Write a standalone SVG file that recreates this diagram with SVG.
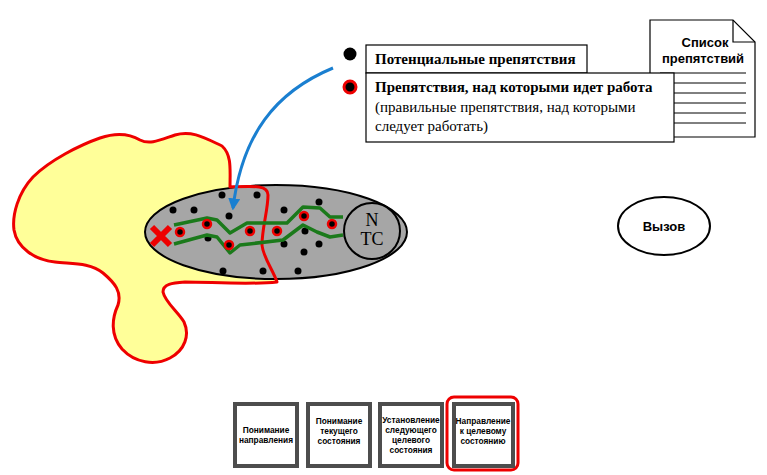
<svg xmlns="http://www.w3.org/2000/svg" width="767" height="475" viewBox="0 0 767 475">
<defs>
<marker id="ah" viewBox="0 0 10 10" refX="8" refY="5" markerWidth="4" markerHeight="4" orient="auto"><path d="M0,0 L10,5 L0,10 z" fill="#1a7fd0"/></marker>
<style>
.serif{font-family:"Liberation Serif","Times New Roman",serif;fill:#000}
.sans{font-family:"Liberation Sans",Arial,sans-serif;fill:#000;font-weight:bold}
.bd{fill:#000}
.rd{fill:#000;stroke:#e00;stroke-width:2.5}
.green{fill:none;stroke:#1b7a1b;stroke-width:3.5;stroke-linejoin:round}
.box{fill:#fff;stroke:#4d4d4d;stroke-width:4}
.bt{font-family:"Liberation Sans",Arial,sans-serif;font-weight:bold;font-size:8.3px;text-anchor:middle;fill:#000}
.line{stroke:#000;stroke-width:1}
</style>
</defs>
<rect width="767" height="475" fill="#fff"/>

<g id="obstacle-region">
<path id="blob-fill" d="M230,187 C230,170 232,155 222,146 C205,138 192,130 175,135 C160,140 150,145 140,140 C128,133 115,133 100,138 C80,145 50,160 33,177 C18,193 12,215 14,230 C17,248 35,260 55,262 C70,264 90,262 103,273 C115,283 122,292 118,305 C112,318 110,335 122,349 C135,363 155,366 170,358 C185,350 190,335 184,322 C178,312 165,302 163,292 C163,284 172,283 185,282 C210,282 250,285 277,282 C273,270 263,257 262,245 C262,228 268,210 268,195 C268,185 255,186 230,187 Z" fill="#ffff99" stroke="none"/>
</g>

<g id="path-ellipse">
<ellipse cx="276" cy="232" rx="131" ry="47" fill="#a6a6a6" stroke="#000" stroke-width="2"/>
</g>

<g id="blob-outline">
<path d="M230,187 C230,170 232,155 222,146 C205,138 192,130 175,135 C160,140 150,145 140,140 C128,133 115,133 100,138 C80,145 50,160 33,177 C18,193 12,215 14,230 C17,248 35,260 55,262 C70,264 90,262 103,273 C115,283 122,292 118,305 C112,318 110,335 122,349 C135,363 155,366 170,358 C185,350 190,335 184,322 C178,312 165,302 163,292 C163,284 172,283 185,282 C210,282 250,285 277,282 C273,270 263,257 262,245 C262,228 268,210 268,195 C268,185 255,186 230,187 Z" fill="none" stroke="#e00" stroke-width="3" stroke-linejoin="round"/>
</g>

<g id="black-dots">
<circle class="bd" cx="222" cy="195" r="3.5"/>
<circle class="bd" cx="257" cy="195" r="3.5"/>
<circle class="bd" cx="173" cy="210" r="3.5"/>
<circle class="bd" cx="194" cy="210" r="3.5"/>
<circle class="bd" cx="229" cy="216" r="3.5"/>
<circle class="bd" cx="284" cy="210" r="3.5"/>
<circle class="bd" cx="319" cy="202" r="3.5"/>
<circle class="bd" cx="208" cy="238" r="3.5"/>
<circle class="bd" cx="305" cy="231" r="3.5"/>
<circle class="bd" cx="284" cy="244" r="3.5"/>
<circle class="bd" cx="319" cy="244" r="3.5"/>
<circle class="bd" cx="304" cy="252" r="3.5"/>
<circle class="bd" cx="223" cy="271" r="3.5"/>
<circle class="bd" cx="263" cy="271" r="3.5"/>
<circle class="bd" cx="298" cy="271" r="3.5"/>
</g>

<g id="routes">
<path class="green" d="M174,225 L207,218 L217,220 L230,233 L247,223 L287,223 L303,207 L320,208 L330,217 L343,217"/>
<path class="green" d="M174,244 L207,235 L217,237 L230,253 L240,245 L283,240 L303,225 L317,232 L330,237 L343,235"/>
</g>

<g id="red-dots">
<circle class="rd" cx="180" cy="232" r="4"/>
<circle class="rd" cx="207" cy="224" r="4"/>
<circle class="rd" cx="229" cy="245" r="4"/>
<circle class="rd" cx="250" cy="231" r="4"/>
<circle class="rd" cx="277" cy="231" r="4"/>
<circle class="rd" cx="304" cy="216" r="4"/>
<circle class="rd" cx="332" cy="224" r="4"/>
</g>

<g id="start-x">
<path d="M152,227 L170,245 M170,227 L152,245" stroke="#e00" stroke-width="6"/>
</g>

<g id="ntc">
<circle cx="372" cy="231" r="28" fill="#a6a6a6" stroke="#000" stroke-width="2"/>
<text class="serif" x="372" y="226" font-size="18" text-anchor="middle">N</text>
<text class="serif" x="372" y="245" font-size="18" text-anchor="middle">TC</text>
</g>

<g id="connectors">
<path d="M333,68 C275,92 242,135 233,208" fill="none" stroke="#1a7fd0" stroke-width="3" marker-end="url(#ah)"/>
</g>

<g id="obstacle-list">
<path d="M650,20 L733,20 L755,42 L755,137 L650,137 Z" fill="#fff" stroke="#000" stroke-width="1.2"/>
<path d="M733,20 L733,42 L755,42" fill="none" stroke="#000" stroke-width="1.2"/>
<text class="sans" x="705" y="47" font-size="13" text-anchor="middle">Список</text>
<text class="sans" x="703" y="63" font-size="13" text-anchor="middle">препятствий</text>
<line class="line" x1="660" y1="73" x2="746" y2="73"/>
<line class="line" x1="660" y1="83" x2="746" y2="83"/>
<line class="line" x1="660" y1="93" x2="746" y2="93"/>
<line class="line" x1="660" y1="103" x2="746" y2="103"/>
<line class="line" x1="660" y1="113" x2="746" y2="113"/>
<line class="line" x1="660" y1="123" x2="746" y2="123"/>
</g>

<g id="legend-potential">
<circle cx="350" cy="54" r="6.5" fill="#000"/>
<rect x="366" y="45" width="221" height="28" fill="#fff" stroke="#000" stroke-width="1.2"/>
<text class="serif" x="375" y="64" font-size="15" font-weight="bold">Потенциальные препятствия</text>
</g>

<g id="legend-working">
<circle cx="350" cy="87" r="6" fill="#000" stroke="#e00" stroke-width="3"/>
<rect x="366" y="73" width="308" height="69" fill="#fff" stroke="#000" stroke-width="1.2"/>
<text class="serif" x="375" y="92" font-size="15" font-weight="bold">Препятствия, над которыми идет работа</text>
<text class="serif" x="375" y="112" font-size="15">(правильные препятствия, над которыми</text>
<text class="serif" x="375" y="131" font-size="15">следует работать)</text>
</g>

<g id="challenge">
<ellipse cx="664" cy="226" rx="46" ry="29" fill="#fff" stroke="#000" stroke-width="2"/>
<text class="sans" x="664" y="231" font-size="13" text-anchor="middle">Вызов</text>
</g>

<g id="step1">
<rect class="box" x="235" y="404" width="62" height="62"/>
<text class="bt" x="266" y="433">Понимание</text>
<text class="bt" x="266" y="443">направления</text>
</g>
<g id="step2">
<rect class="box" x="308" y="404" width="62" height="62"/>
<text class="bt" x="339" y="424">Понимание</text>
<text class="bt" x="339" y="434">текущего</text>
<text class="bt" x="339" y="444">состояния</text>
</g>
<g id="step3">
<rect class="box" x="380" y="404" width="62" height="62"/>
<text class="bt" x="411" y="423">Установление</text>
<text class="bt" x="411" y="433">следующего</text>
<text class="bt" x="411" y="443">целевого</text>
<text class="bt" x="411" y="453">состояния</text>
</g>
<g id="step4">
<rect x="447" y="397" width="71" height="73" rx="7" fill="none" stroke="#e00" stroke-width="3"/>
<rect class="box" x="454" y="404" width="59" height="62"/>
<text class="bt" x="483" y="424">Направление</text>
<text class="bt" x="483" y="434">к целевому</text>
<text class="bt" x="483" y="444">состоянию</text>
</g>
</svg>
